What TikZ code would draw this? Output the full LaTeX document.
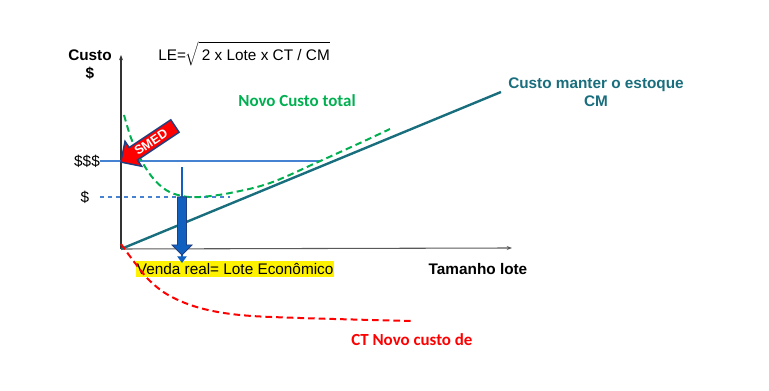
\documentclass[tikz,border=0pt]{standalone}
\usepackage{fontspec}
\setmainfont{Liberation Sans}
\newfontfamily\calib{Carlito}
\usetikzlibrary{shapes.arrows,arrows.meta}
\definecolor{cmteal}{RGB}{25,110,125}
\definecolor{ctgreen}{RGB}{0,176,80}
\definecolor{linblue}{RGB}{70,130,210}
\definecolor{setablue}{RGB}{16,96,192}
\definecolor{bordablue}{RGB}{32,63,128}
\begin{document}
\begin{tikzpicture}[x=0.75pt,y=-0.75pt,
		txt/.style={font=\fontsize{11.5pt}{13.5pt}\selectfont,inner sep=0pt},
		txtb/.style={txt,font=\fontsize{11.5pt}{13.5pt}\selectfont\bfseries},
		txtc/.style={inner sep=0pt,font=\fontsize{12.7pt}{15pt}\selectfont\calib\bfseries},
		eixo/.style={line width=0.8pt,-{Stealth[length=4pt,width=3pt]}}]
		\useasboundingbox (0,0) rectangle (769,391);
		% eixos
		\coordinate (O) at (121,249);
		\coordinate (ytop) at (121,55);
		\coordinate (xend) at (512,248);
		\draw[eixo,black!80] (O) -- (ytop);
		\draw[eixo,black!65] (O) -- (xend);
		\node[txtb,align=center] (custo) at (90,65) {Custo\\\$};
		\node[txtb] (tamanho) at (478,269) {Tamanho lote};
		\node[txt,anchor=base west] (le) at (158,61) {LE=$\sqrt{\rule[-3pt]{0pt}{15pt}\,\mbox{2 x Lote x CT / CM}}$};
		% niveis de custo
		\node[txt] (alto) at (87,161) {\$\$\$};
		\node[txt] (baixo) at (85,197) {\$};
		\coordinate (altofim) at (320,161);
		\coordinate (baixofim) at (230,197);
		\draw[linblue,line width=0.8pt] (100,161) -- (altofim);
		\draw[linblue,line width=0.8pt,dashed] (100,197) -- (baixofim);
		% custo manter o estoque
		\coordinate (cmfim) at (501,92);
		\draw[cmteal,line width=1.8pt] (O) -- (cmfim);
		\node[txtb,cmteal,align=center] (cm) at (596,92) {Custo manter o estoque\\CM};
		% novo custo total
		\draw[ctgreen,line width=1.5pt,dash pattern=on 5pt off 3pt] plot[smooth,tension=0.6] coordinates
			{(124,115) (131,138) (140,158) (152,177) (166,190) (182,196) (200,197) (230,193) (270,183) (318,162) (360,143) (390,129)};
		\node[txtc,ctgreen] (nct) at (297,101) {Novo Custo total};
		% lote economico
		\node[txt,fill=yellow,inner xsep=0.5pt,inner ysep=1.5pt,anchor=west] (venda) at (136,269) {Venda real= Lote Econômico};
		\coordinate (vtop) at (182,167);
		\coordinate (vbot) at (182,263);
		\draw[setablue,line width=1pt,-{Triangle[length=5pt,width=7pt]}] (vtop) -- (vbot);
		\filldraw[fill=setablue,draw=bordablue,line width=0.6pt]
			(177.5,197) -- (186.5,197) -- (186.5,245) -- (192,245) -- (182,255) -- (172,245) -- (177.5,245) -- cycle;
		% CT novo custo
		\draw[red,line width=1.5pt,dash pattern=on 5pt off 3pt] plot[smooth,tension=0.6] coordinates
			{(121,244) (135,263) (150,281) (170,296) (200,308) (240,315) (300,318) (413,321)};
		\node[txtc,red,anchor=west] (ctn) at (351,340) {CT Novo custo de};
		% SMED
		\node[single arrow,fill=red,draw=bordablue,line width=1.1pt,rotate=33.7,shape border rotate=180,
			minimum height=48.75pt,minimum width=22.5pt,single arrow head extend=4.9pt,inner sep=1pt,
			text=white,font=\fontsize{9.5pt}{10pt}\selectfont\bfseries] (smed) at (151,142) {SMED};
\end{tikzpicture}
\end{document}
